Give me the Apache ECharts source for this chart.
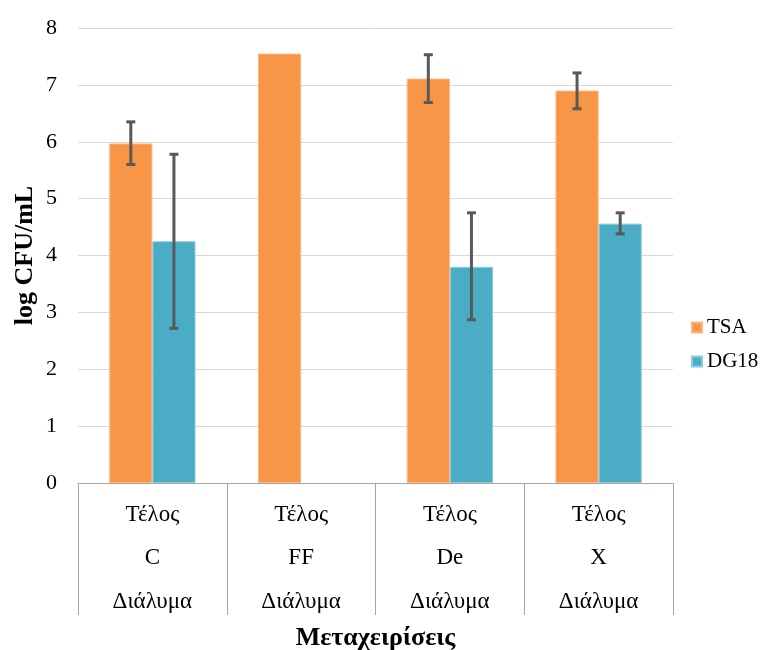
<!DOCTYPE html>
<html>
<head>
<meta charset="utf-8">
<script src="https://cdn.jsdelivr.net/npm/echarts@6/dist/echarts.min.js"></script>
<style>
  html, body { margin: 0; padding: 0; background: #fff; }
  #main { width: 771px; height: 650px; }
</style>
</head>
<body>
<div id="main"></div>
<script>
// data
var treatments = ['C', 'FF', 'De', 'X'];
var labelTop = 'Τέλος';
var labelBottom = 'Διάλυμα';
var tsa = [5.97, 7.55, 7.11, 6.90];
var tsaLow = [5.60, null, 6.69, 6.58];
var tsaHigh = [6.35, null, 7.53, 7.21];
var dg18 = [4.25, null, 3.80, 4.56];
var dg18Low = [2.72, null, 2.87, 4.38];
var dg18High = [5.78, null, 4.75, 4.75];
var yTicks = [0, 1, 2, 3, 4, 5, 6, 7, 8];

var catGap = 0.42;
var serif = '"Liberation Serif", "DejaVu Serif", serif';

var dom = document.getElementById('main');
var myChart = echarts.init(dom);

function errData(low, high) {
  var out = [];
  for (var i = 0; i < low.length; i++) {
    if (low[i] != null) out.push([i, low[i], high[i]]);
  }
  return out;
}

// side: -1 left bar, +1 right bar
function errRenderer(side) {
  return function (params, api) {
    var idx = api.value(0);
    var lo = api.coord([idx, api.value(1)]);
    var hi = api.coord([idx, api.value(2)]);
    var catW = api.size([1, 0])[0];
    var barW = catW * (1 - catGap) / 2;
    var x = lo[0] + side * barW / 2;
    var cap = 4.5;
    var style = { stroke: '#595959', lineWidth: 3 };
    return {
      type: 'group',
      children: [
        { type: 'line', shape: { x1: x, y1: hi[1], x2: x, y2: lo[1] }, style: style },
        { type: 'line', shape: { x1: x - cap, y1: hi[1], x2: x + cap, y2: hi[1] }, style: style },
        { type: 'line', shape: { x1: x - cap, y1: lo[1], x2: x + cap, y2: lo[1] }, style: style }
      ]
    };
  };
}

var option = {
  animation: false,
  color: ['#F79646', '#4BACC6'],
  grid: { left: 78, right: 98, top: 28, bottom: 167, outerBoundsMode: 'none', containLabel: false },
  legend: {
    data: ['TSA', 'DG18'],
    orient: 'vertical',
    left: 686,
    top: 312,
    itemWidth: 10,
    itemHeight: 10,
    itemGap: 13,
    icon: 'rect',
    textStyle: { fontFamily: serif, fontSize: 21, color: '#000' }
  },
  xAxis: {
    type: 'category',
    data: treatments,
    name: 'Μεταχειρίσεις',
    nameLocation: 'middle',
    nameGap: 142,
    nameMoveOverlap: false,
    nameTextStyle: { fontFamily: serif, fontSize: 26, fontWeight: 'bold', color: '#000' },
    axisLine: { lineStyle: { color: '#a6a6a6', width: 1 } },
    axisTick: { show: true, length: 132, interval: 0, lineStyle: { color: '#a6a6a6' } },
    axisLabel: {
      interval: 0,
      margin: 10,
      fontFamily: serif,
      fontSize: 23,
      lineHeight: 43.5,
      color: '#000',
      formatter: function (v) { return labelTop + '\n' + v + '\n' + labelBottom; }
    }
  },
  yAxis: {
    type: 'value',
    min: yTicks[0],
    max: yTicks[yTicks.length - 1],
    interval: 1,
    name: 'log CFU/mL',
    nameLocation: 'middle',
    nameGap: 40,
    nameMoveOverlap: false,
    nameTextStyle: { fontFamily: serif, fontSize: 26, fontWeight: 'bold', color: '#000' },
    axisLine: { show: false },
    axisTick: { show: false },
    axisLabel: { fontFamily: serif, fontSize: 22, color: '#000', margin: 21 },
    splitLine: { lineStyle: { color: '#d9d9d9', width: 1 } }
  },
  series: [
    {
      name: 'TSA',
      type: 'bar',
      data: tsa,
      barGap: 0,
      barCategoryGap: (catGap * 100) + '%',
      itemStyle: { borderColor: '#fbb77e', borderWidth: 1 }
    },
    {
      name: 'DG18',
      type: 'bar',
      data: dg18,
      itemStyle: { borderColor: '#8ccbdc', borderWidth: 1 }
    },
    {
      type: 'custom',
      renderItem: errRenderer(-1),
      data: errData(tsaLow, tsaHigh),
      z: 10,
      silent: true
    },
    {
      type: 'custom',
      renderItem: errRenderer(1),
      data: errData(dg18Low, dg18High),
      z: 10,
      silent: true
    }
  ]
};

myChart.setOption(option);
</script>
</body>
</html>
